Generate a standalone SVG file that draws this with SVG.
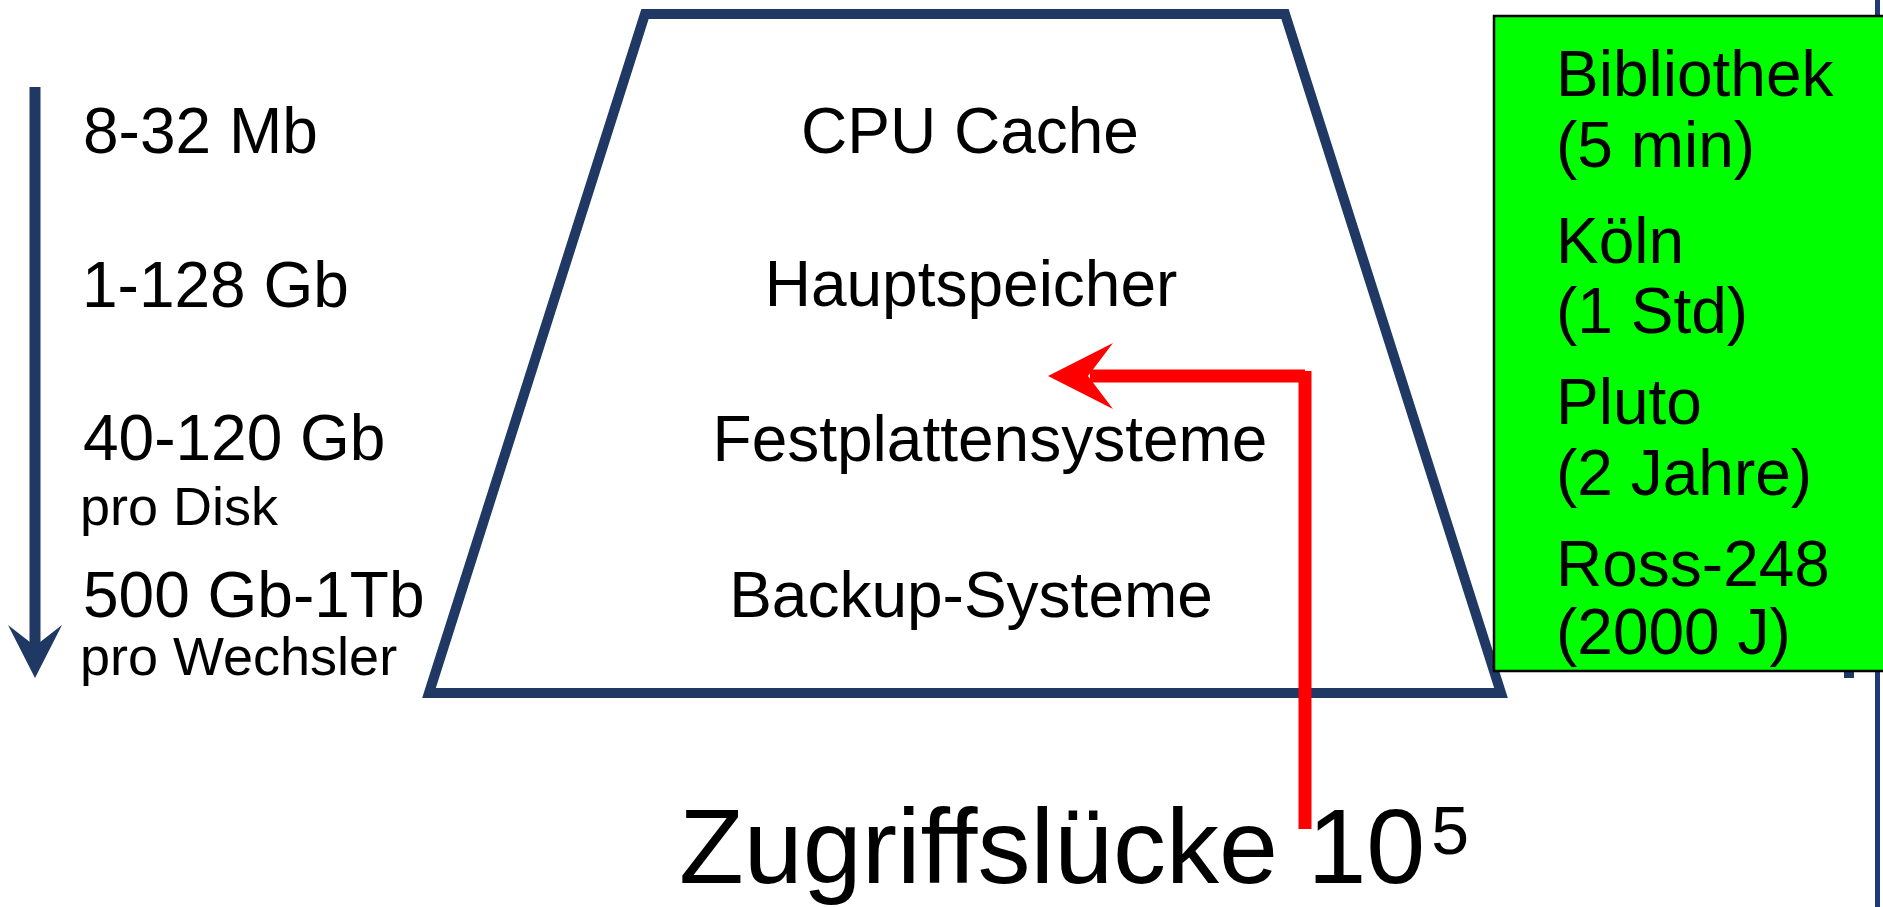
<svg xmlns="http://www.w3.org/2000/svg" width="1883" height="907" viewBox="0 0 1883 907">
  <style>
    text { font-family: "Liberation Sans", Arial, sans-serif; fill: #000; }
    .big { font-size: 64px; }
    .small { font-size: 54px; }
    .mid { text-anchor: middle; }
    .navy { fill: #1F3864; }
    .navyline { stroke: #1F3864; fill: none; }
    .red { stroke: #FF0000; stroke-width: 13; fill: none; }
  </style>

  <rect x="0" y="0" width="1883" height="907" fill="#FFFFFF"/>

  <!-- thin vertical rule on the right edge -->
  <g id="right-rule">
    <rect x="1875" y="0" width="5" height="907" fill="#1F3A78"/>
    <rect x="1844" y="668" width="10" height="10" class="navy"/>
  </g>

  <!-- downward scale arrow -->
  <g id="scale-arrow">
    <line x1="35" y1="87" x2="35" y2="650" class="navyline" stroke-width="11"/>
    <polygon points="8,625 35,678 62,625 35,646" class="navy"/>
  </g>

  <!-- capacity labels -->
  <g id="capacities">
    <text x="83" y="153" class="big">8-32 Mb</text>
    <text x="82" y="307" class="big">1-128 Gb</text>
    <text x="83" y="460" class="big">40-120 Gb</text>
    <text x="80" y="525" class="small">pro Disk</text>
    <text x="83" y="617" class="big">500 Gb-1Tb</text>
    <text x="80" y="675" class="small">pro Wechsler</text>
  </g>

  <!-- storage hierarchy -->
  <g id="hierarchy">
    <polygon points="645,14 1285,14 1501,693 429,693" fill="#FFFFFF" class="navyline" stroke-width="10" stroke-linejoin="miter"/>
    <text x="970" y="153" class="big mid">CPU Cache</text>
    <text x="971" y="306" class="big mid">Hauptspeicher</text>
    <text x="990" y="461" class="big mid">Festplattensysteme</text>
    <text x="971" y="617" class="big mid">Backup-Systeme</text>
  </g>

  <!-- distance analogy -->
  <g id="analogy">
    <rect x="1494" y="16" width="400" height="655" fill="#00FF00" stroke="#000000" stroke-width="2.5"/>
    <text x="1556" y="96" class="big">Bibliothek</text>
    <text x="1556" y="167" class="big">(5 min)</text>
    <text x="1556" y="263" class="big">Köln</text>
    <text x="1556" y="333" class="big">(1 Std)</text>
    <text x="1556" y="424" class="big">Pluto</text>
    <text x="1556" y="495" class="big">(2 Jahre)</text>
    <text x="1556" y="586" class="big">Ross-248</text>
    <text x="1556" y="654" class="big">(2000 J)</text>
  </g>

  <!-- access gap connector -->
  <g id="connectors">
    <line x1="1305" y1="829" x2="1305" y2="371" class="red"/>
    <line x1="1305" y1="376" x2="1090" y2="376" class="red"/>
    <polygon points="1048,376 1113,343 1088,376 1113,409" fill="#FF0000"/>
  </g>

  <g id="gap-label">
    <text x="679" y="883" font-size="106">Zugriffslücke 10<tspan font-size="68" dx="6" dy="-29">5</tspan></text>
  </g>
</svg>
